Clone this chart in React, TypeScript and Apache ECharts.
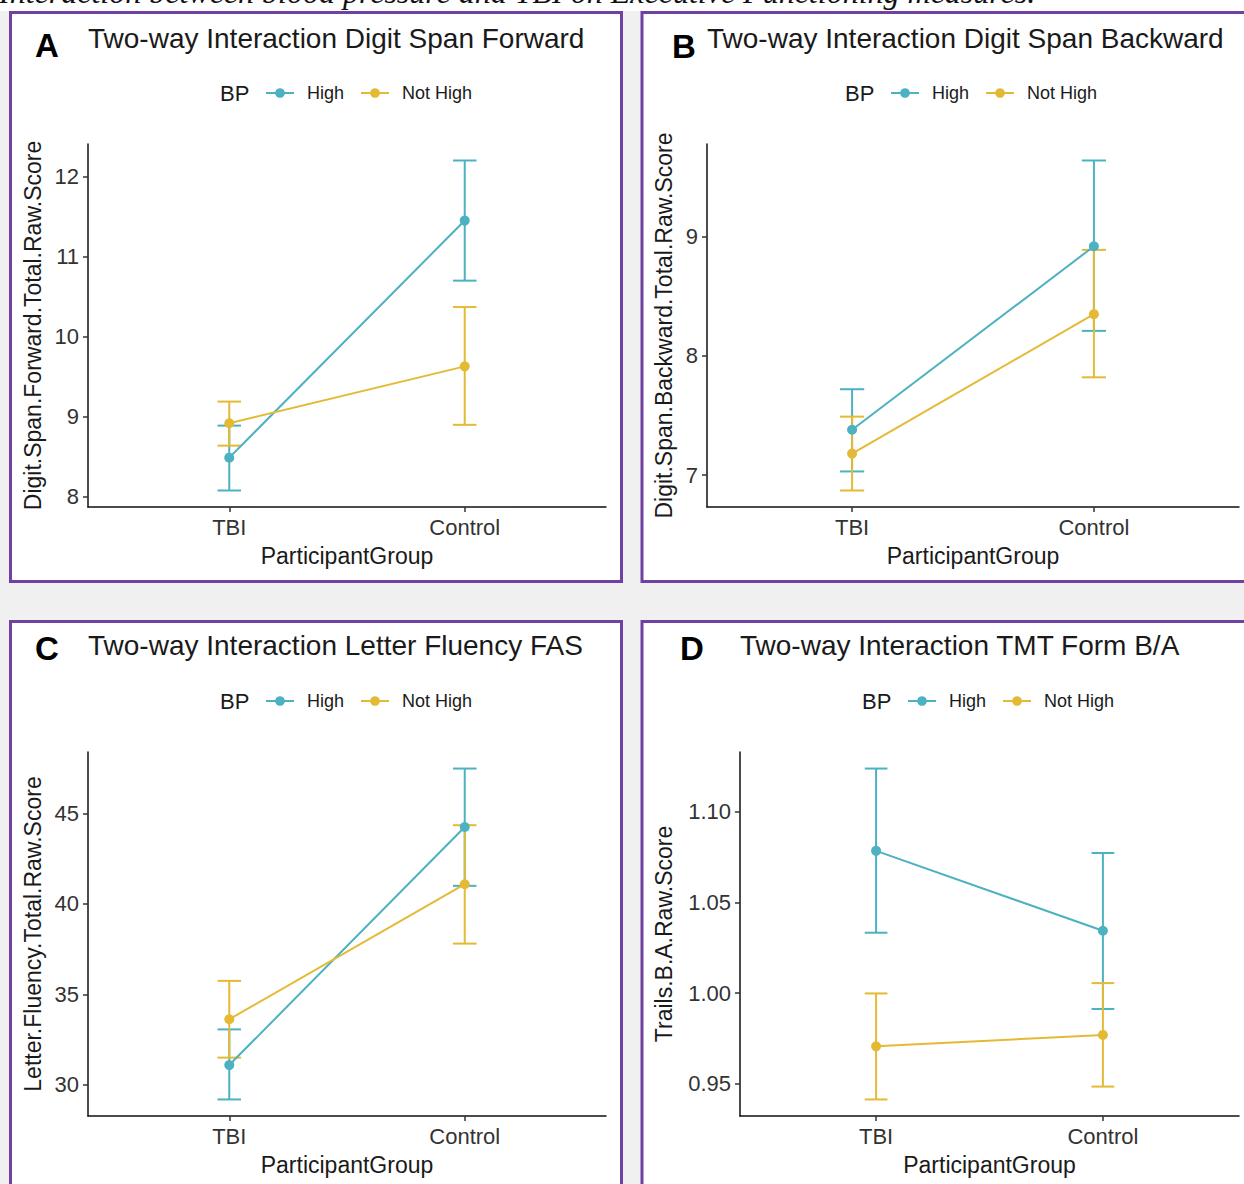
import React, { useEffect, useRef } from "react";
import * as echarts from "echarts";

// ---- data ----
const CATEGORIES = ["TBI", "Control"];
const GROUP_NAMES = ["High", "Not High"];

const A_HIGH_MEAN = [8.49, 11.45];
const A_HIGH_LO = [8.08, 10.7];
const A_HIGH_HI = [8.89, 12.2];
const A_NOT_MEAN = [8.92, 9.63];
const A_NOT_LO = [8.64, 8.9];
const A_NOT_HI = [9.19, 10.37];
const A_TICKS = [8, 9, 10, 11, 12];

const B_HIGH_MEAN = [7.38, 8.92];
const B_HIGH_LO = [7.03, 8.21];
const B_HIGH_HI = [7.72, 9.64];
const B_NOT_MEAN = [7.18, 8.35];
const B_NOT_LO = [6.87, 7.82];
const B_NOT_HI = [7.49, 8.89];
const B_TICKS = [7, 8, 9];

const C_HIGH_MEAN = [31.1, 44.25];
const C_HIGH_LO = [29.2, 41.0];
const C_HIGH_HI = [33.07, 47.48];
const C_NOT_MEAN = [33.63, 41.09];
const C_NOT_LO = [31.51, 37.81];
const C_NOT_HI = [35.75, 44.35];
const C_TICKS = [30, 35, 40, 45];

const D_HIGH_MEAN = [1.0785, 1.0344];
const D_HIGH_LO = [1.0333, 0.9912];
const D_HIGH_HI = [1.1239, 1.0773];
const D_NOT_MEAN = [0.9706, 0.9769];
const D_NOT_LO = [0.9413, 0.9484];
const D_NOT_HI = [0.9998, 1.0055];
const D_TICKS = [0.95, 1.0, 1.05, 1.1];

const CAPTION = "Interaction between blood pressure and TBI on Executive Functioning measures.";

// ---- styling ----
const COLORS = ["#4cb1c0", "#e4ba35"];
const PURPLE = "#7041a0";
const SANS = '"Liberation Sans", Arial, sans-serif';

type Panel = {
  letter: string;
  title: string;
  yName: string;
  high: number[][];
  not: number[][];
  ticks: number[];
  decimals: number;
  frame: { x: number; y: number; w: number; h: number };
  letterPos: [number, number];
  titlePos: [number, number];
  legendPos: [number, number];
  yNameX: number;
  grid: { left: number; top: number; right: number; bottom: number };
};

const PANELS: Panel[] = [
  {
    letter: "A",
    title: "Two-way Interaction Digit Span Forward",
    yName: "Digit.Span.Forward.Total.Raw.Score",
    high: [A_HIGH_MEAN, A_HIGH_LO, A_HIGH_HI],
    not: [A_NOT_MEAN, A_NOT_LO, A_NOT_HI],
    ticks: A_TICKS,
    decimals: 0,
    frame: { x: 10.5, y: 12.5, w: 611, h: 569 },
    letterPos: [35, 45],
    titlePos: [88, 38],
    legendPos: [220, 93],
    yNameX: 33,
    grid: { left: 88, top: 144, right: 606, bottom: 507 },
  },
  {
    letter: "B",
    title: "Two-way Interaction Digit Span Backward",
    yName: "Digit.Span.Backward.Total.Raw.Score",
    high: [B_HIGH_MEAN, B_HIGH_LO, B_HIGH_HI],
    not: [B_NOT_MEAN, B_NOT_LO, B_NOT_HI],
    ticks: B_TICKS,
    decimals: 0,
    frame: { x: 642, y: 12.5, w: 640, h: 569 },
    letterPos: [672, 46],
    titlePos: [707, 38],
    legendPos: [845, 93],
    yNameX: 664,
    grid: { left: 707, top: 144, right: 1239, bottom: 507 },
  },
  {
    letter: "C",
    title: "Two-way Interaction Letter Fluency FAS",
    yName: "Letter.Fluency.Total.Raw.Score",
    high: [C_HIGH_MEAN, C_HIGH_LO, C_HIGH_HI],
    not: [C_NOT_MEAN, C_NOT_LO, C_NOT_HI],
    ticks: C_TICKS,
    decimals: 0,
    frame: { x: 10.5, y: 621.5, w: 611, h: 640 },
    letterPos: [35, 648],
    titlePos: [88, 645],
    legendPos: [220, 701],
    yNameX: 33,
    grid: { left: 88, top: 752, right: 606, bottom: 1116 },
  },
  {
    letter: "D",
    title: "Two-way Interaction TMT Form B/A",
    yName: "Trails.B.A.Raw.Score",
    high: [D_HIGH_MEAN, D_HIGH_LO, D_HIGH_HI],
    not: [D_NOT_MEAN, D_NOT_LO, D_NOT_HI],
    ticks: D_TICKS,
    decimals: 2,
    frame: { x: 642, y: 621.5, w: 640, h: 640 },
    letterPos: [680, 648],
    titlePos: [740, 645],
    legendPos: [862, 701],
    yNameX: 664,
    grid: { left: 740, top: 752, right: 1239, bottom: 1116 },
  },
];

function errorRender(color: string) {
  return (params: any, api: any) => {
    const x = api.value(0);
    const lo = api.value(1);
    const hi = api.value(2);
    const pLo = api.coord([x, lo]);
    const pHi = api.coord([x, hi]);
    const l = api.coord([x - 0.05, lo])[0];
    const r = api.coord([x + 0.05, lo])[0];
    const style = { stroke: color, lineWidth: 2, fill: null };
    return {
      type: "group",
      children: [
        { type: "line", shape: { x1: pLo[0], y1: pLo[1], x2: pHi[0], y2: pHi[1] }, style },
        { type: "line", shape: { x1: l, y1: pLo[1], x2: r, y2: pLo[1] }, style },
        { type: "line", shape: { x1: l, y1: pHi[1], x2: r, y2: pHi[1] }, style },
      ],
    };
  };
}

function buildOption() {
  const grids: any[] = [];
  const xAxes: any[] = [];
  const yAxes: any[] = [];
  const series: any[] = [];
  const legends: any[] = [];
  const graphics: any[] = [];

  // white strip for caption
  graphics.push({ type: "rect", shape: { x: 0, y: 0, width: 1244, height: 11 }, style: { fill: "#ffffff" }, z: 0 });
  graphics.push({
    type: "text",
    x: -1,
    y: -8,
    style: {
      text: CAPTION,
      font: 'italic 32px "Liberation Serif", "Times New Roman", serif',
      fill: "#111",
      verticalAlign: "middle",
    },
    z: 1,
  });

  PANELS.forEach((p, i) => {
    const all = [...p.high[1], ...p.high[2], ...p.not[1], ...p.not[2]];
    const lo = Math.min(...all);
    const hi = Math.max(...all);
    const pad = (hi - lo) * 0.05;

    graphics.push({
      type: "rect",
      shape: { x: p.frame.x, y: p.frame.y, width: p.frame.w, height: p.frame.h },
      style: { fill: "#ffffff", stroke: PURPLE, lineWidth: 3 },
      z: -10,
      silent: true,
    });
    graphics.push({
      type: "text",
      x: p.letterPos[0],
      y: p.letterPos[1],
      style: { text: p.letter, font: `bold 33px ${SANS}`, fill: "#000", verticalAlign: "middle" },
    });
    graphics.push({
      type: "text",
      x: p.titlePos[0],
      y: p.titlePos[1],
      style: { text: p.title, font: `28px ${SANS}`, fill: "#1a1a1a", verticalAlign: "middle" },
    });
    graphics.push({
      type: "text",
      x: p.legendPos[0],
      y: p.legendPos[1],
      style: { text: "BP", font: `22px ${SANS}`, fill: "#1a1a1a", verticalAlign: "middle" },
    });

    legends.push({
      data: GROUP_NAMES,
      left: p.legendPos[0] + 45,
      top: p.legendPos[1] - 9,
      padding: 0,
      orient: "horizontal",
      itemWidth: 28,
      itemHeight: 12,
      itemGap: 16,
      selectedMode: false,
      textStyle: { fontSize: 18, fontFamily: SANS, color: "#1a1a1a", padding: [0, 0, 0, 8] },
    });

    grids.push({
      left: p.grid.left,
      top: p.grid.top,
      width: p.grid.right - p.grid.left,
      height: p.grid.bottom - p.grid.top,
    });

    xAxes.push({
      type: "value",
      gridIndex: i,
      min: 0.4,
      max: 2.6,
      name: "ParticipantGroup",
      nameLocation: "middle",
      nameGap: 37,
      nameTextStyle: { fontSize: 23, fontFamily: SANS, color: "#1a1a1a" },
      axisLine: { show: true, onZero: false, lineStyle: { color: "#111", width: 1.5 } },
      axisTick: { show: true, length: 5, customValues: [1, 2], lineStyle: { color: "#333", width: 1.5 } },
      axisLabel: {
        customValues: [1, 2],
        formatter: (v: number) => CATEGORIES[Math.round(v) - 1] ?? "",
        fontSize: 22,
        fontFamily: SANS,
        color: "#333",
        margin: 9,
      },
      splitLine: { show: false },
    });

    yAxes.push({
      type: "value",
      gridIndex: i,
      min: lo - pad,
      max: hi + pad,
      name: p.yName,
      nameLocation: "middle",
      nameGap: p.grid.left - p.yNameX - 11,
      nameTextStyle: { fontSize: 23, fontFamily: SANS, color: "#1a1a1a" },
      axisLine: { show: true, onZero: false, lineStyle: { color: "#111", width: 1.5 } },
      axisTick: { show: true, length: 5, customValues: p.ticks, lineStyle: { color: "#333", width: 1.5 } },
      axisLabel: {
        customValues: p.ticks,
        formatter: (v: number) => v.toFixed(p.decimals),
        fontSize: 22,
        fontFamily: SANS,
        color: "#333",
        margin: 9,
      },
      splitLine: { show: false },
    });

    [p.high, p.not].forEach((grp, gi) => {
      series.push({
        type: "line",
        name: GROUP_NAMES[gi],
        xAxisIndex: i,
        yAxisIndex: i,
        data: grp[0].map((m, k) => [k + 1, m]),
        symbol: "circle",
        symbolSize: 10,
        lineStyle: { color: COLORS[gi], width: 2 },
        itemStyle: { color: COLORS[gi] },
        z: 3,
      });
    });
    [p.high, p.not].forEach((grp, gi) => {
      series.push({
        type: "custom",
        name: GROUP_NAMES[gi] + " CI",
        xAxisIndex: i,
        yAxisIndex: i,
        data: grp[0].map((_, k) => [k + 1, grp[1][k], grp[2][k]]),
        encode: { x: 0, y: [1, 2] },
        renderItem: errorRender(COLORS[gi]),
        z: 2,
      });
    });
  });

  return {
    animation: false,
    backgroundColor: "#f0f0f0",
    grid: grids,
    xAxis: xAxes,
    yAxis: yAxes,
    legend: legends,
    series,
    graphic: graphics,
  };
}

export default function App() {
  const ref = useRef<HTMLDivElement>(null);
  useEffect(() => {
    if (!ref.current) return;
    const chart = echarts.init(ref.current, undefined, { renderer: "svg" });
    chart.setOption(buildOption() as any);
    return () => chart.dispose();
  }, []);
  return (
    <div
      ref={ref}
      style={{ position: "absolute", left: 0, top: 0, width: 1244, height: 1184 }}
    />
  );
}
